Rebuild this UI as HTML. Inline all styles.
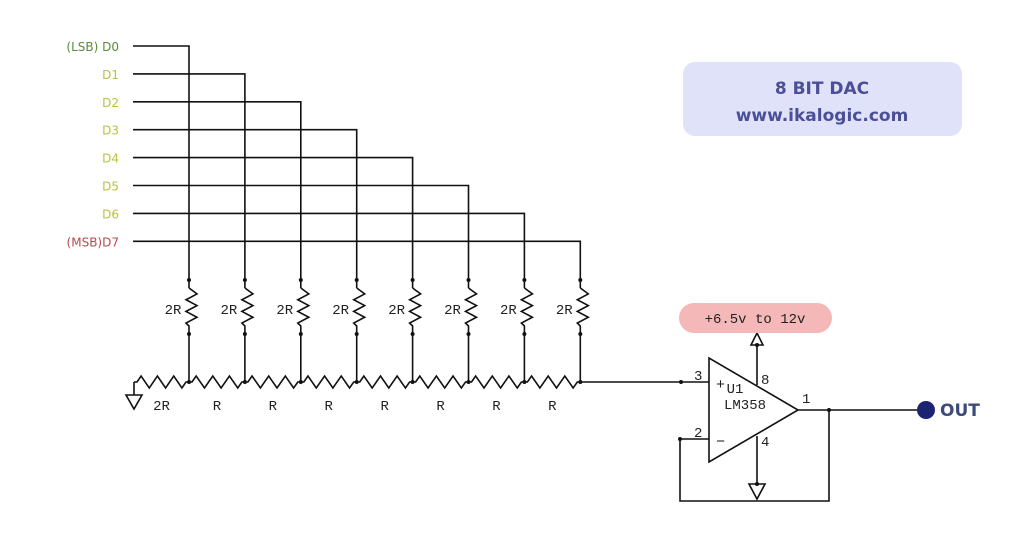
<!DOCTYPE html>
<html><head><meta charset="utf-8"><style>
html,body{margin:0;padding:0;background:#fff;}
svg{display:block;}
text{font-family:"DejaVu Sans","Liberation Sans",sans-serif;}
.mono{font-family:"Liberation Mono",monospace;}
</style></head><body>
<svg id="s" width="1016" height="535" viewBox="0 0 1016 535" xmlns="http://www.w3.org/2000/svg">
<rect x="683" y="62" width="279" height="74" rx="12" fill="#dfe2f8"/>
<text x="822" y="94" text-anchor="middle" font-size="17" font-weight="bold" fill="#4b4f98">8 BIT DAC</text>
<text x="822" y="121" text-anchor="middle" font-size="17" font-weight="bold" fill="#4b4f98">www.ikalogic.com</text>
<g id="g" stroke="#111" stroke-width="1.6" fill="none"></g>
<rect x="679" y="303" width="153" height="30" rx="15" fill="#f4b8b8"/>
<text class="mono" x="755" y="323" text-anchor="middle" font-size="14" fill="#222">+6.5v to 12v</text>
<text class="mono" x="735" y="393" text-anchor="middle" font-size="14" fill="#222">U1</text>
<text class="mono" x="745" y="409" text-anchor="middle" font-size="14" fill="#222">LM358</text>
<text class="mono" x="716" y="389" font-size="15" fill="#222">+</text>
<text class="mono" x="716" y="446" font-size="15" fill="#222">−</text>
<text class="mono" x="694" y="380" font-size="14" fill="#222">3</text>
<text class="mono" x="694" y="437" font-size="14" fill="#222">2</text>
<text class="mono" x="761" y="384" font-size="14" fill="#222">8</text>
<text class="mono" x="761" y="446" font-size="14" fill="#222">4</text>
<text class="mono" x="802" y="403" font-size="14" fill="#222">1</text>
<circle cx="926" cy="410" r="9" fill="#1c2370"/>
<text x="940" y="416" font-size="17" font-weight="bold" fill="#3d4a7a">OUT</text>
</svg>
<script>
const bitLabels=["(LSB) D0","D1","D2","D3","D4","D5","D6","(MSB)D7"];
const bitColors=["#5a8a3c","#b8c43c","#b8c43c","#b8c43c","#b8c43c","#b8c43c","#b8c43c","#b84a4a"];
const ladderLabels=["2R","R","R","R","R","R","R","R"];
const NS="http://www.w3.org/2000/svg";
const s=document.getElementById('s'), g=document.getElementById('g');
function P(d,name){const p=document.createElementNS(NS,'path');p.setAttribute('d',d);


g.appendChild(p);return p;}
function T(x,y,t,c,anchor,size,name,mono){const e=document.createElementNS(NS,'text');e.setAttribute('x',x);e.setAttribute('y',y);e.setAttribute('fill',c);e.setAttribute('font-size',size);e.setAttribute('text-anchor',anchor);if(mono)e.setAttribute('class','mono');e.textContent=t;


s.appendChild(e);}
function D(x,y){const c=document.createElementNS(NS,'circle');c.setAttribute('cx',x);c.setAttribute('cy',y);c.setAttribute('r',2);c.setAttribute('fill','#111');


s.appendChild(c);}
const y0=46,dy=27.9,x0=189,dx=55.9,ly=382;
function hz(a,b){let d='M'+a+' '+ly;const seg=(b-a-6)/6;d+=' L'+(a+3)+' '+ly;for(let k=0;k<6;k++){d+=' L'+(a+3+seg*(k+0.5))+' '+(ly+(k%2?6:-6));}d+=' L'+(b-3)+' '+ly+' L'+b+' '+ly;return d;}
for(let i=0;i<bitLabels.length;i++){
 const y=y0+i*dy, x=x0+i*dx;
 T(119,y+5,bitLabels[i],bitColors[i],'end',12,'bit-label-d'+i,false);
 P('M133 '+y+' H'+x+' V288','bit-line-d'+i);
 let d='M'+x+' 288';const n=6,h=(325-290)/n;
 for(let k=0;k<n;k++){d+=' L'+(x+(k%2?-3:8))+' '+(291+h*(k+0.5));}
 d+=' L'+x+' 326 V'+ly;
 P(d,'resistor-2r-'+i);
 D(x,280);D(x,334);D(x,ly);
 T(x-16,314,'2R','#222','middle',14,'resistor-label-2r-'+i,true);
 const a=i===0?134:x-dx;
 P(hz(a,x),'ladder-resistor-'+i);
 T((a+x)/2,410,ladderLabels[i],'#222','middle',14,'ladder-label-'+i,true);
}
const xl=x0+7*dx;
P('M134 '+ly+' V395 M126 395 H142 L134 409 Z','ground-ladder');
P('M'+xl+' '+ly+' H709','wire-noninverting');
D(681,ly);
P('M709 358 V462 L798 410 Z','opamp-body');
P('M757 385 V345 M751 345 L757 333 L763 345 Z','pin8-supply');
P('M757 436 V484 M749 484 H765 L757 499 Z','pin4-ground');
D(757,345);D(757,484);
P('M798 410 H917','wire-output');
D(829,410);
P('M829 410 V501 H680 V439 H709','feedback-wire');
D(680,439);
</script>
</body></html>
